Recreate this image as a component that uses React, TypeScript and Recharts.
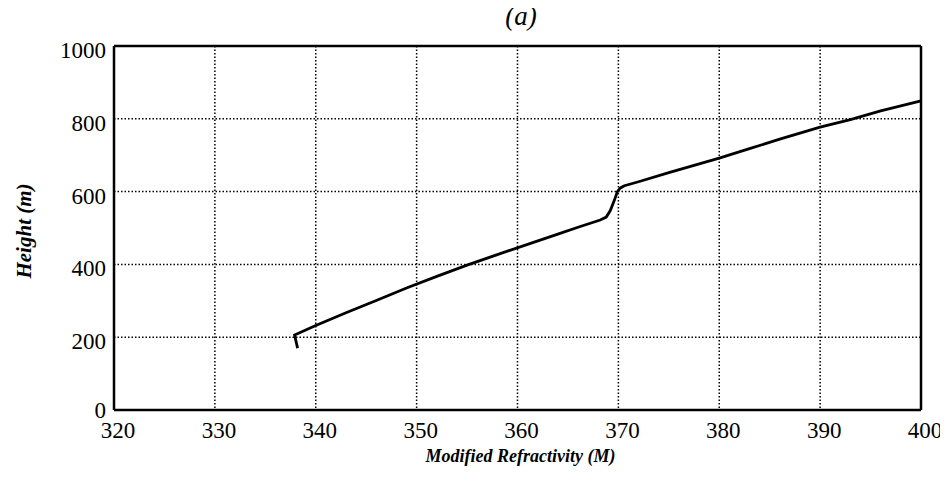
import React from 'react';
import { LineChart, Line, XAxis, YAxis, CartesianGrid, ReferenceLine } from 'recharts';

const refractivity = [338.2, 337.9, 340, 343, 346, 349, 352, 355, 358, 361, 364, 366, 368.2, 368.8, 369.2, 369.6, 369.9, 370.2, 370.6, 372, 375, 380, 383, 386, 390, 393, 396, 400];
const heightM = [170, 206, 232, 267, 301, 335, 367, 398, 427, 455, 483, 502, 522, 530, 548, 576, 600, 610, 616, 627, 652, 692, 718, 744, 777, 798, 822, 849];
const xTicks = [320, 330, 340, 350, 360, 370, 380, 390, 400];
const yTicks = [0, 200, 400, 600, 800, 1000];

const data = refractivity.map((m, i) => ({ m, h: heightM[i] }));

const FONT = '"Liberation Serif", "Times New Roman", serif';

const XTick = (props: any) => {
  const { x, y, payload } = props;
  return (
    <text x={x + 4} y={y + 28} textAnchor="middle" fontFamily={FONT} fontSize={23} fill="#000">
      {payload.value}
    </text>
  );
};

const YTick = (props: any) => {
  const { x, y, payload } = props;
  const dy = payload.value === 0 ? 8 : 12;
  return (
    <text x={x - 8} y={y + dy} textAnchor="end" fontFamily={FONT} fontSize={23} fill="#000">
      {payload.value}
    </text>
  );
};

const XLabel = (props: any) => {
  const vb = props.viewBox || {};
  return (
    <text x={vb.x + vb.width / 2 + 3} y={vb.y + 52} textAnchor="middle" fontFamily={FONT} fontSize={18} fontStyle="italic" fontWeight="bold" fill="#000">
      Modified Refractivity (M)
    </text>
  );
};

const YLabel = (props: any) => {
  const vb = props.viewBox || {};
  const cx = 23;
  const cy = vb.y + vb.height / 2 + 3;
  return (
    <text x={cx} y={cy} transform={`rotate(-90, ${cx}, ${cy})`} textAnchor="middle" fontFamily={FONT} fontSize={21} fontStyle="italic" fontWeight="bold" fill="#000">
      Height (m)
    </text>
  );
};

export default function App() {
  return (
    <div style={{ position: 'relative', width: 940, height: 482 }}>
      <div style={{ position: 'absolute', left: 463, top: -8, width: 100, height: 32, lineHeight: '32px', textAlign: 'center', fontFamily: FONT, fontStyle: 'italic', fontSize: 27, color: '#000' }}>
        (a)
      </div>
      <LineChart width={940} height={482} data={data} margin={{ top: 38, right: 27, left: 0, bottom: 0 }}>
        <CartesianGrid stroke="#000" strokeWidth={1.5} strokeDasharray="1.5 2" />
        <XAxis
          type="number"
          dataKey="m"
          domain={[320, 400]}
          ticks={xTicks}
          interval={0}
          height={80}
          tickSize={0}
          tickMargin={0}
          tickLine={false}
          axisLine={{ stroke: '#000', strokeWidth: 2.5 }}
          tick={<XTick />}
          label={<XLabel />}
        />
        <YAxis
          type="number"
          dataKey="h"
          domain={[0, 1000]}
          ticks={yTicks}
          interval={0}
          width={106}
          tickSize={0}
          tickMargin={0}
          tickLine={false}
          axisLine={{ stroke: '#000', strokeWidth: 2.5 }}
          tick={<YTick />}
          label={<YLabel />}
        />
        <ReferenceLine y={1000} stroke="#000" strokeWidth={2.5} />
        <ReferenceLine x={400} stroke="#000" strokeWidth={2.5} />
        <Line type="linear" dataKey="h" stroke="#000" strokeWidth={2.8} dot={false} isAnimationActive={false} />
      </LineChart>
    </div>
  );
}
